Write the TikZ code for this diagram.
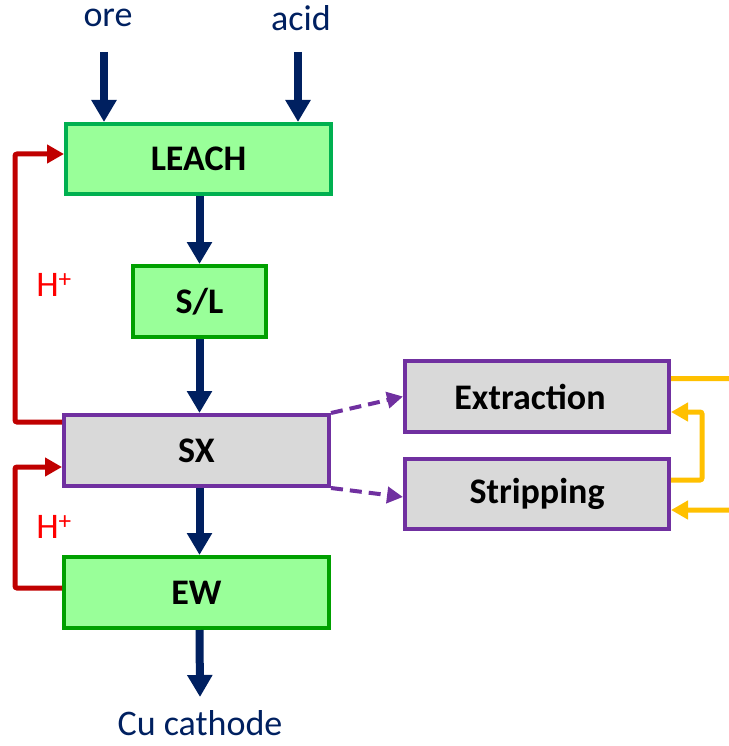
\documentclass[tikz,border=0pt]{standalone}
\usepackage{fontspec}
\setmainfont{Carlito}
\usetikzlibrary{arrows.meta}
\definecolor{navy}{HTML}{002060}
\definecolor{gfill}{HTML}{99FF99}
\definecolor{gline}{HTML}{00B050}
\definecolor{gline2}{HTML}{00A000}
\definecolor{gray1}{HTML}{D9D9D9}
\definecolor{purp}{HTML}{7030A0}
\definecolor{darkred}{HTML}{C00000}
\definecolor{hred}{HTML}{FF0000}
\definecolor{yel}{HTML}{FFC000}
\tikzset{
  boxbase/.style={draw, line width=4pt, outer sep=2pt, inner sep=0pt, font=\fontsize{36}{40}\selectfont\bfseries, text=black},
  greenbox/.style={boxbase, fill=gfill, draw=gline},
  greenbox2/.style={boxbase, fill=gfill, draw=gline2},
  graybox/.style={boxbase, fill=gray1, draw=purp},
  lbl/.style={font=\fontsize{36}{40}\selectfont, text=navy},
  hlbl/.style={font=\fontsize{36}{40}\selectfont, text=hred},
  flow/.style={draw=navy, line width=8pt, -{Triangle[width=24pt,length=22pt]}},
  recyc/.style={draw=darkred, line width=5pt, rounded corners=2pt, -{Triangle[width=18pt,length=17pt]}},
  yflow/.style={draw=yel, line width=5pt, rounded corners=2pt, -{Triangle[width=18pt,length=17pt]}},
  dflow/.style={draw=purp, line width=4pt, dash pattern=on 12pt off 7pt, -{Triangle[width=16pt,length=16pt]}},
}
\begin{document}
\begin{tikzpicture}[x=1pt,y=-1pt]
\useasboundingbox (0,0) rectangle (728,746);
\node[greenbox, minimum width=265pt, minimum height=70pt] (leach) at (198.5,159) {LEACH};
\node[greenbox2, minimum width=133pt, minimum height=71pt] (sl) at (199.5,301.5) {S/L};
\node[graybox, minimum width=265pt, minimum height=71pt] (sx) at (196.5,450.5) {SX};
\node[greenbox2, minimum width=265pt, minimum height=71pt] (ew) at (196.5,592.5) {EW};
\node[graybox, minimum width=264pt, minimum height=71pt] (ext) at (537,396.5) {\hspace{-14pt}Extraction};
\node[graybox, minimum width=264pt, minimum height=70pt] (str) at (537,494) {Stripping};

\node[lbl] (ore) at (108,18) {ore};
\node[lbl] (acid) at (301,18) {acid};
\node[lbl] (cu) at (200,723) {Cu cathode};
\node[hlbl] (h1) at (54,285) {H\textsuperscript{+}};
\node[hlbl] (h2) at (54,527) {H\textsuperscript{+}};

\coordinate (oreS) at (104,52);
\coordinate (acidS) at (298,52);
\coordinate (cuT) at (200,697);
\draw[flow] (oreS) -- (oreS |- leach.north);
\draw[flow] (acidS) -- (acidS |- leach.north);
\draw[flow] (leach.south -| sl.north) -- (sl.north);
\draw[flow] (sl.south) -- (sl.south |- sx.north);
\draw[flow] (sl.south |- sx.south) -- (sl.south |- ew.north);
\draw[flow] (sl.south |- ew.south) -- (cuT);

\draw[recyc] ([yshift=-9pt]sx.north west) -- ++(-47,0) |- ([yshift=5pt]leach.west);
\draw[recyc] ([yshift=4.5pt]ew.west) -- ++(-47,0) |- ([yshift=-16.5pt]sx.west);

\draw[dflow] (sx.north east) -- (ext.west);
\draw[dflow] (sx.south east) -- ([yshift=-3pt]str.west);

\draw[yflow] ([yshift=18pt]ext.east) -- ++(62,0) |- ([yshift=-16pt]str.east);
\draw[yflow] ([yshift=14pt]str.east) -- ++(31,0) |- ([yshift=-15.5pt]ext.east);
\end{tikzpicture}
\end{document}
